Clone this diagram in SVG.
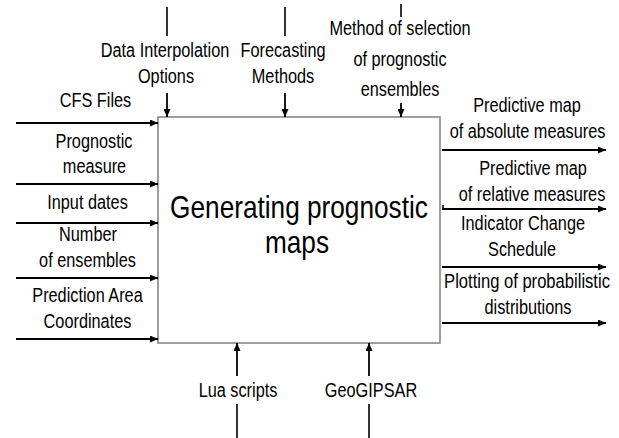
<svg xmlns="http://www.w3.org/2000/svg" width="619" height="438" viewBox="0 0 619 438">
<style>
text{font-family:"Liberation Sans",Arial,sans-serif;font-size:21px;fill:#000;text-anchor:middle}
.title{font-size:32px}
.ln{stroke:#000;stroke-width:1.6;fill:none}
.ar{stroke:#000;stroke-width:1.8;fill:none;marker-end:url(#ah)}
.box{fill:#fff;stroke:#7f7f7f;stroke-width:1.5}
</style>
<defs>
<marker id="ah" markerUnits="userSpaceOnUse" markerWidth="9" markerHeight="7" refX="8" refY="3.5" orient="auto">
<path d="M0,0 L8,3.5 L0,7 z" fill="#000"/>
</marker>
</defs>
<rect width="619" height="438" fill="#fff"/>
<g id="process">
<rect class="box" x="158" y="117" width="282" height="226"/>
<text class="title" transform="matrix(0.819 0 0 1 299 218)">Generating prognostic</text>
<text class="title" transform="matrix(0.819 0 0 1 297 253)">maps</text>
</g>
<g id="connectors">
<line class="ln" x1="167" y1="7" x2="167" y2="36"/>
<line class="ar" x1="167" y1="93" x2="167" y2="117"/>
<line class="ln" x1="285" y1="7" x2="285" y2="36"/>
<line class="ar" x1="285" y1="93" x2="285" y2="117"/>
<line class="ln" x1="401" y1="4" x2="401" y2="17"/>
<line class="ar" x1="401" y1="103" x2="401" y2="117"/>
<line class="ar" x1="16" y1="123" x2="158" y2="123"/>
<line class="ar" x1="16" y1="184" x2="158" y2="184"/>
<line class="ar" x1="16" y1="223" x2="158" y2="223"/>
<line class="ar" x1="16" y1="278" x2="158" y2="278"/>
<line class="ar" x1="16" y1="339" x2="158" y2="339"/>
<line class="ar" x1="442" y1="150" x2="606" y2="150"/>
<line class="ar" x1="442" y1="209" x2="606" y2="209"/>
<line class="ln" x1="443" y1="205" x2="443" y2="209"/>
<line class="ar" x1="442" y1="267" x2="606" y2="267"/>
<line class="ar" x1="442" y1="323" x2="606" y2="323"/>
<line class="ar" x1="237" y1="376" x2="237" y2="343"/>
<line class="ln" x1="237" y1="404" x2="237" y2="438"/>
<line class="ar" x1="369" y1="376" x2="369" y2="343"/>
<line class="ln" x1="369" y1="404" x2="369" y2="438"/>
</g>
<g id="control-data-interpolation">
<text transform="matrix(0.776 0 0 1 165 56.5)">Data Interpolation</text>
<text transform="matrix(0.776 0 0 1 166 82.5)">Options</text>
</g>
<g id="control-forecasting">
<text transform="matrix(0.776 0 0 1 283 56.5)">Forecasting</text>
<text transform="matrix(0.776 0 0 1 283 82.5)">Methods</text>
</g>
<g id="control-method-selection">
<text transform="matrix(0.776 0 0 1 400 35)">Method of selection</text>
<text transform="matrix(0.776 0 0 1 400 66)">of prognostic</text>
<text transform="matrix(0.776 0 0 1 400 96)">ensembles</text>
</g>
<g id="input-cfs">
<text transform="matrix(0.776 0 0 1 95.5 107)">CFS Files</text>
</g>
<g id="input-prognostic-measure">
<text transform="matrix(0.776 0 0 1 94 148)">Prognostic</text>
<text transform="matrix(0.776 0 0 1 94.5 173)">measure</text>
</g>
<g id="input-dates">
<text transform="matrix(0.776 0 0 1 87.5 209)">Input dates</text>
</g>
<g id="input-ensembles">
<text transform="matrix(0.776 0 0 1 88 241)">Number</text>
<text transform="matrix(0.776 0 0 1 87.5 267)">of ensembles</text>
</g>
<g id="input-area">
<text transform="matrix(0.776 0 0 1 87.5 302)">Prediction Area</text>
<text transform="matrix(0.776 0 0 1 87.5 328)">Coordinates</text>
</g>
<g id="output-absolute">
<text transform="matrix(0.776 0 0 1 527 112)">Predictive map</text>
<text transform="matrix(0.776 0 0 1 527.5 138)">of absolute measures</text>
</g>
<g id="output-relative">
<text transform="matrix(0.776 0 0 1 533 175)">Predictive map</text>
<text transform="matrix(0.776 0 0 1 532 201)">of relative measures</text>
</g>
<g id="output-schedule">
<text transform="matrix(0.776 0 0 1 523 230)">Indicator Change</text>
<text transform="matrix(0.776 0 0 1 522 256)">Schedule</text>
</g>
<g id="output-plotting">
<text transform="matrix(0.79 0 0 1 527 288)">Plotting of probabilistic</text>
<text transform="matrix(0.776 0 0 1 528 314)">distributions</text>
</g>
<g id="mechanism-lua">
<text transform="matrix(0.776 0 0 1 238 397)">Lua scripts</text>
</g>
<g id="mechanism-geogipsar">
<text transform="matrix(0.776 0 0 1 371 397)">GeoGIPSAR</text>
</g>
</svg>
